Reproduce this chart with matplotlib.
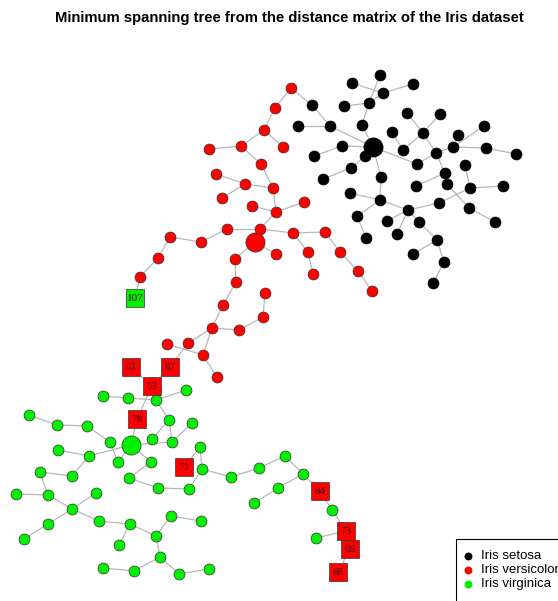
import matplotlib.pyplot as plt
from matplotlib.collections import LineCollection
from matplotlib.patches import Rectangle

# Layout coordinates of the tree nodes (x, y in layout units, y grows downwards)
setosa = {
    "s1": (380, 75), "s2": (352, 83), "s3": (413, 84), "s4": (383, 93),
    "s5": (369, 103), "s6": (344, 106), "s7": (312, 105), "s8": (407, 113),
    "s9": (440, 114), "s10": (298, 126), "s11": (330, 126), "s12": (362, 125),
    "s13": (392, 132), "s14": (423, 133), "s15": (484, 126), "s16": (458, 135),
    "s17": (373, 147), "s18": (342, 146), "s19": (403, 150), "s20": (436, 153),
    "s21": (453, 147), "s22": (486, 148), "s23": (516, 154), "s24": (314, 156),
    "s25": (365, 156), "s26": (417, 164), "s27": (465, 165), "s28": (351, 168),
    "s29": (323, 179), "s30": (381, 177), "s31": (445, 173), "s32": (447, 184),
    "s33": (416, 186), "s34": (470, 188), "s35": (503, 186), "s36": (350, 193),
    "s37": (380, 200), "s38": (439, 203), "s39": (408, 210), "s40": (357, 216),
    "s41": (469, 208), "s42": (495, 222), "s43": (387, 221), "s44": (419, 222),
    "s45": (397, 234), "s46": (366, 238), "s47": (437, 240), "s48": (413, 254),
    "s49": (444, 262), "s50": (433, 283),
}
versicolor = {
    "v0": (255, 242), "v1": (291, 88), "v2": (275, 108), "v3": (264, 130),
    "v4": (283, 147), "v5": (241, 146), "v6": (209, 149), "v7": (261, 164),
    "v8": (273, 188), "v9": (245, 184), "v10": (216, 174), "v11": (222, 198),
    "v12": (276, 212), "v13": (252, 206), "v14": (304, 202), "v15": (260, 229),
    "v16": (227, 229), "v17": (201, 242), "v18": (170, 237), "v19": (158, 258),
    "v20": (140, 277), "v21": (276, 254), "v22": (293, 233), "v23": (325, 232),
    "v24": (308, 252), "v25": (313, 274), "v26": (340, 252), "v27": (358, 271),
    "v28": (372, 291), "v29": (235, 259), "v30": (236, 282), "v31": (265, 293),
    "v32": (223, 305), "v33": (212, 328), "v34": (239, 330), "v35": (263, 317),
    "v36": (188, 343), "v37": (167, 344), "v38": (203, 355), "v39": (217, 377),
}
virginica = {
    "g0": (131, 445), "g1": (186, 390), "g2": (156, 400), "g3": (103, 396),
    "g4": (128, 398), "g5": (169, 420), "g6": (172, 442), "g7": (152, 439),
    "g8": (192, 423), "g9": (29, 415), "g10": (57, 425), "g11": (87, 426),
    "g12": (110, 442), "g13": (118, 462), "g14": (89, 456), "g15": (58, 450),
    "g16": (72, 476), "g17": (40, 472), "g18": (48, 495), "g19": (16, 494),
    "g20": (72, 509), "g21": (96, 493), "g22": (48, 524), "g23": (24, 539),
    "g24": (99, 521), "g25": (130, 524), "g26": (119, 545), "g27": (156, 536),
    "g28": (171, 516), "g29": (201, 521), "g30": (160, 557), "g31": (134, 571),
    "g32": (103, 568), "g33": (179, 574), "g34": (209, 569), "g35": (151, 462),
    "g36": (129, 478), "g37": (158, 488), "g38": (189, 489), "g39": (202, 469),
    "g40": (200, 447), "g41": (231, 477), "g42": (259, 468), "g43": (285, 456),
    "g44": (303, 474), "g45": (278, 488), "g46": (254, 503), "g47": (332, 510),
    "g48": (316, 538),
}
# misclassified observations, drawn as labelled squares
miss_versicolor = {
    "51": (131, 367), "87": (170, 367), "53": (152, 386), "78": (137, 419),
    "71": (184, 467), "84": (320, 491), "73": (346, 531), "69": (350, 549),
    "88": (338, 572),
}
miss_virginica = {"107": (135, 298)}

hubs = ["s17", "v0", "g0"]

edges = [
    # setosa
    ("s1", "s5"), ("s4", "s5"), ("s2", "s4"), ("s3", "s4"), ("s6", "s5"),
    ("s5", "s12"), ("s12", "s17"), ("s7", "s11"), ("s10", "s11"), ("s11", "s17"),
    ("s18", "s17"), ("s24", "s18"), ("s25", "s17"), ("s28", "s25"), ("s29", "s28"),
    ("s30", "s17"), ("s26", "s17"), ("s8", "s14"), ("s9", "s14"), ("s13", "s19"),
    ("s19", "s14"), ("s14", "s20"), ("s15", "s21"), ("s16", "s21"), ("s21", "s20"),
    ("s21", "s22"), ("s22", "s23"), ("s27", "s34"), ("s20", "s31"), ("s26", "s20"),
    ("s34", "s35"), ("s31", "s32"), ("s33", "s31"), ("s38", "s34"), ("s38", "s39"),
    ("s32", "s41"), ("s41", "s42"), ("s39", "s44"), ("s30", "s37"), ("s36", "s37"),
    ("s37", "s39"), ("s40", "s37"), ("s40", "s46"), ("s43", "s39"), ("s45", "s39"),
    ("s44", "s47"), ("s48", "s47"), ("s47", "s49"), ("s49", "s50"),
    # versicolor
    ("v1", "s7"), ("v1", "v2"), ("v2", "v3"), ("v3", "v4"), ("v3", "v5"),
    ("v5", "v6"), ("v5", "v7"), ("v7", "v8"), ("v8", "v9"), ("v9", "v10"),
    ("v9", "v11"), ("v8", "v12"), ("v12", "v13"), ("v12", "v14"), ("v12", "v15"),
    ("v15", "v0"), ("v15", "v16"), ("v16", "v17"), ("v17", "v18"), ("v18", "v19"),
    ("v19", "v20"), ("v20", "107"), ("v15", "v22"), ("v22", "v23"), ("v22", "v24"),
    ("v24", "v25"), ("v23", "v26"), ("v26", "v27"), ("v27", "v28"), ("v0", "v21"),
    ("v0", "v29"), ("v29", "v30"), ("v30", "v32"), ("v32", "v33"), ("v33", "v34"),
    ("v34", "v35"), ("v35", "v31"), ("v33", "v36"), ("v33", "v38"), ("v38", "v37"),
    ("v38", "v39"), ("v36", "87"), ("87", "53"), ("51", "53"), ("53", "78"),
    ("78", "g0"),
    # virginica
    ("g1", "g2"), ("g3", "g4"), ("g4", "g2"), ("g2", "g5"), ("g5", "g6"),
    ("g5", "g7"), ("g6", "g8"), ("g6", "g0"), ("g9", "g10"), ("g10", "g11"),
    ("g11", "g12"), ("g12", "g13"), ("g13", "g0"), ("g14", "g0"), ("g15", "g14"),
    ("g14", "g16"), ("g16", "g17"), ("g17", "g18"), ("g18", "g19"), ("g18", "g20"),
    ("g20", "g21"), ("g20", "g22"), ("g22", "g23"), ("g20", "g24"), ("g24", "g25"),
    ("g25", "g26"), ("g25", "g27"), ("g27", "g28"), ("g28", "g29"), ("g27", "g30"),
    ("g30", "g31"), ("g31", "g32"), ("g30", "g33"), ("g33", "g34"), ("g0", "g35"),
    ("g35", "g36"), ("g36", "g37"), ("g37", "g38"), ("g38", "g39"), ("g39", "g40"),
    ("71", "g40"), ("g39", "g41"), ("g41", "g42"), ("g42", "g43"), ("g43", "g44"),
    ("g44", "84"), ("g44", "g45"), ("g45", "g46"), ("84", "g47"), ("g47", "73"),
    ("73", "g48"), ("73", "69"), ("69", "88"),
]

species = ["Iris setosa", "Iris versicolor", "Iris virginica"]
colores = ["black", "#ff0000", "#00f000"]

pos = {}
for d in (setosa, versicolor, virginica, miss_versicolor, miss_virginica):
    pos.update(d)

fig = plt.figure(figsize=(5.58, 6.01), dpi=100)
ax = fig.add_axes([0, 0, 1, 1])
ax.set_xlim(0, 558)
ax.set_ylim(601, 0)
ax.axis("off")

# edges of the tree
segs = [(pos[a], pos[b]) for a, b in edges]
ax.add_collection(LineCollection(segs, colors="#b8b8b8", linewidths=0.9, zorder=1))

# circles, hubs bigger
for nodos, col in zip((setosa, versicolor, virginica), colores):
    normales = [k for k in nodos if k not in hubs]
    grandes = [k for k in nodos if k in hubs]
    borde = "black" if col == "black" else "#333333"
    ax.scatter([nodos[k][0] for k in normales], [nodos[k][1] for k in normales],
               s=62, c=col, edgecolors=borde, linewidths=0.5, zorder=2)
    ax.scatter([nodos[k][0] for k in grandes], [nodos[k][1] for k in grandes],
               s=190, c=col, edgecolors=borde, linewidths=0.5, zorder=2)

# labelled squares for the misclassified flowers
for nodos, col in ((miss_versicolor, "#ff0000"), (miss_virginica, "#00f000")):
    for k, (x, y) in nodos.items():
        ax.scatter([x], [y], s=160, marker="s", c=col, edgecolors="#333333",
                   linewidths=0.5, zorder=3)
        ax.text(x, y + 0.5, k, ha="center", va="center", fontsize=8,
                family="Liberation Serif", color="#3a0808", zorder=4)

ax.text(289, 18, "Minimum spanning tree from the distance matrix of the Iris dataset",
        ha="center", va="center", fontsize=10.7, fontweight="bold",
        family="Liberation Sans")

# legend box
ax.add_patch(Rectangle((456, 539), 130, 80, fill=False, edgecolor="black",
                       linewidth=0.8, zorder=5))
for i, (nombre, col) in enumerate(zip(species, colores)):
    y = 556 + i * 14
    ax.scatter([468], [y], s=22, c=col, zorder=6)
    ax.text(481, y, nombre, ha="left", va="center", fontsize=9.5,
            family="Liberation Sans", zorder=6)

plt.savefig("out.png", dpi=100)
